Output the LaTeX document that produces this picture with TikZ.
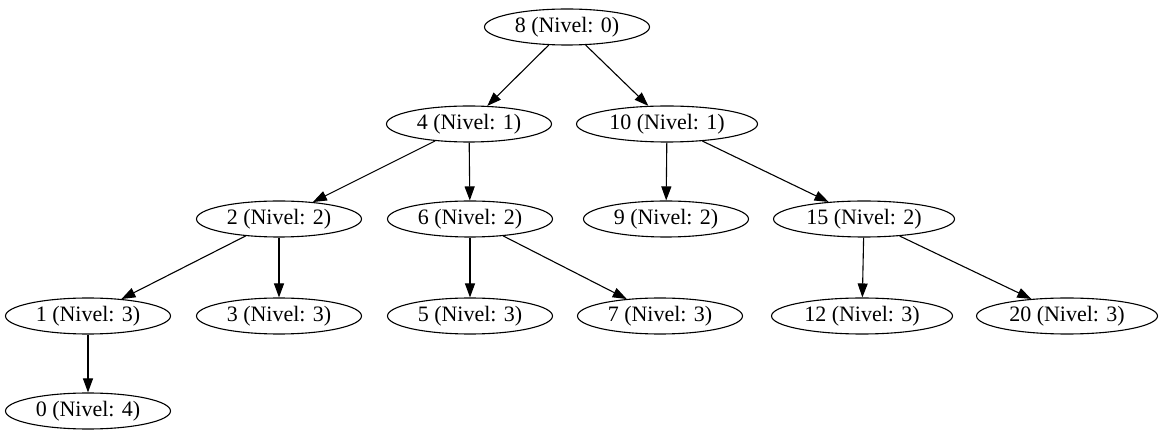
\documentclass[tikz,border=0pt]{standalone}
\usepackage{fontspec}
\setmainfont{Liberation Serif}
\usepackage{tikz}
\usetikzlibrary{shapes.geometric, arrows.meta, positioning}
\tikzset{
  tnode/.style={ellipse, draw=black, line width=1.1pt, inner sep=0pt, minimum width=165pt, minimum height=36pt, font=\fontsize{22}{26}\selectfont},
  wnode/.style={tnode, minimum width=181pt},
  link/.style={-{Triangle[length=14pt,width=10pt]}, line width=1.1pt},
}

\begin{document}
\begin{tikzpicture}[x=1pt, y=1pt]
  \useasboundingbox (0,0) rectangle (1165,-443);
  % niveles 0 y 1
  \node[tnode] (n8) at (567,-27) {8 (Nivel: 0)};
  \node[tnode] (n4) at (469,-124) {4 (Nivel: 1)};
  \node[wnode] (n10) at (667,-124) {10 (Nivel: 1)};
  % nivel 2
  \node[tnode] (n2) at (279,-219) {2 (Nivel: 2)};
  \node[tnode] (n6) at (470,-219) {6 (Nivel: 2)};
  \node[tnode] (n9) at (666,-219) {9 (Nivel: 2)};
  \node[wnode] (n15) at (864,-219) {15 (Nivel: 2)};
  % nivel 3
  \node[tnode] (n1) at (88,-316) {1 (Nivel: 3)};
  \node[tnode] (n3) at (279,-316) {3 (Nivel: 3)};
  \node[tnode] (n5) at (470,-316) {5 (Nivel: 3)};
  \node[tnode] (n7) at (660,-316) {7 (Nivel: 3)};
  \node[wnode] (n12) at (862,-316) {12 (Nivel: 3)};
  \node[wnode] (n20) at (1067,-316) {20 (Nivel: 3)};
  % nivel 4
  \node[tnode] (n0) at (88,-411) {0 (Nivel: 4)};

  \draw[link] (n8) -- (n4);
  \draw[link] (n8) -- (n10);
  \draw[link] (n4) -- (n2);
  \draw[link] (n4) -- (n6);
  \draw[link] (n10) -- (n9);
  \draw[link] (n10) -- (n15);
  \draw[link] (n2) -- (n1);
  \draw[link] (n2) -- (n3);
  \draw[link] (n6) -- (n5);
  \draw[link] (n6) -- (n7);
  \draw[link] (n15) -- (n12);
  \draw[link] (n15) -- (n20);
  \draw[link] (n1) -- (n0);
\end{tikzpicture}
\end{document}
